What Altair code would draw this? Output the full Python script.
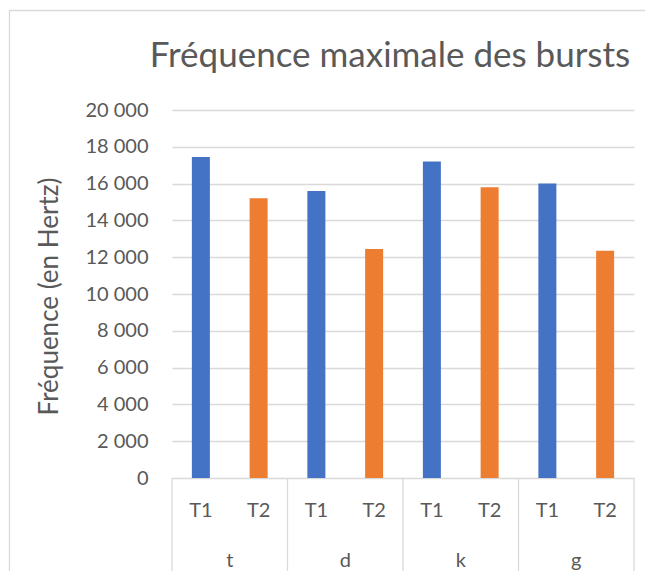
import altair as alt
import pandas as pd

groups = ["t", "d", "k", "g"]
series = ["T1", "T2"]
t1_values = [17450, 15600, 17200, 16000]
t2_values = [15200, 12450, 15800, 12350]
y_ticks = [0, 2000, 4000, 6000, 8000, 10000, 12000, 14000, 16000, 18000, 20000]
colors = ["#4472C4", "#ED7D31"]

rows = []
for g, v1, v2 in zip(groups, t1_values, t2_values):
    rows.append({"groupe": g, "serie": "T1", "key": g + "|T1", "valeur": v1})
    rows.append({"groupe": g, "serie": "T2", "key": g + "|T2", "valeur": v2})
df = pd.DataFrame(rows)
order = list(df["key"])

W, H = 462, 368
TXT = "#595959"
GRID = "#d9d9d9"
FONT = "Lato"

xscale = alt.Scale(domain=order, paddingInner=0, paddingOuter=0)

def xenc(bp=None):
    if bp is None:
        return alt.X("key:N", scale=xscale, axis=None, sort=order)
    return alt.X("key:N", scale=xscale, axis=None, sort=order, bandPosition=bp)

border = alt.Chart(pd.DataFrame({"a": [0]})).mark_rect(
    fill="transparent", stroke=GRID, strokeWidth=1.3
).encode(
    x=alt.value(-162.5), x2=alt.value(W + 200),
    y=alt.value(-99.5), y2=alt.value(H + 200),
)

bars = alt.Chart(df).mark_bar(width=18).encode(
    x=xenc(),
    y=alt.Y(
        "valeur:Q",
        scale=alt.Scale(domain=[0, 20000]),
        axis=alt.Axis(
            values=y_ticks,
            domain=False,
            ticks=False,
            labelPadding=24,
            labelFontSize=20,
            labelFont=FONT,
            labelColor=TXT,
            labelExpr="replace(format(datum.value, ','), ',', ' ')",
            gridColor=GRID,
            gridWidth=1.3,
            title="Fréquence (en Hertz)",
            titleFont=FONT,
            titleFontSize=26,
            titleFontWeight="normal",
            titleColor=TXT,
            titleAngle=-90,
            titleX=-115,
            titleY=186,
            titleAlign="center",
            titleBaseline="alphabetic",
        ),
    ),
    color=alt.Color("serie:N", scale=alt.Scale(domain=series, range=colors), legend=None),
)

sub_labels = alt.Chart(df).mark_text(
    fontSize=20, font=FONT, color=TXT, baseline="alphabetic", align="center"
).encode(x=xenc(), y=alt.value(H + 39), text="serie:N")

group_labels = alt.Chart(df[df["serie"] == "T2"]).mark_text(
    fontSize=20, font=FONT, color=TXT, baseline="alphabetic", align="center"
).encode(x=xenc(0), y=alt.value(H + 89), text="groupe:N")

seps = alt.Chart(df[df["serie"] == "T1"]).mark_rule(color=GRID, strokeWidth=1.3).encode(
    x=xenc(0), y=alt.value(H), y2=alt.value(H + 94)
)
seps_end = alt.Chart(df.tail(1)).mark_rule(color=GRID, strokeWidth=1.3).encode(
    x=xenc(1), y=alt.value(H), y2=alt.value(H + 94)
)

chart = alt.layer(border, bars, sub_labels, group_labels, seps, seps_end).properties(
    width=W,
    height=H,
    title=alt.TitleParams(
        "Fréquence maximale des bursts",
        fontSize=35,
        font=FONT,
        fontWeight="normal",
        color=TXT,
        anchor="middle",
        baseline="alphabetic",
        dx=-13,
        offset=-92,
    ),
    autosize=alt.AutoSizeParams(type="none"),
    padding={"left": 164, "top": 102, "right": 11, "bottom": 93},
).configure_view(stroke=None)

chart.save("out.html", embed_options={"renderer": "svg", "actions": False})
